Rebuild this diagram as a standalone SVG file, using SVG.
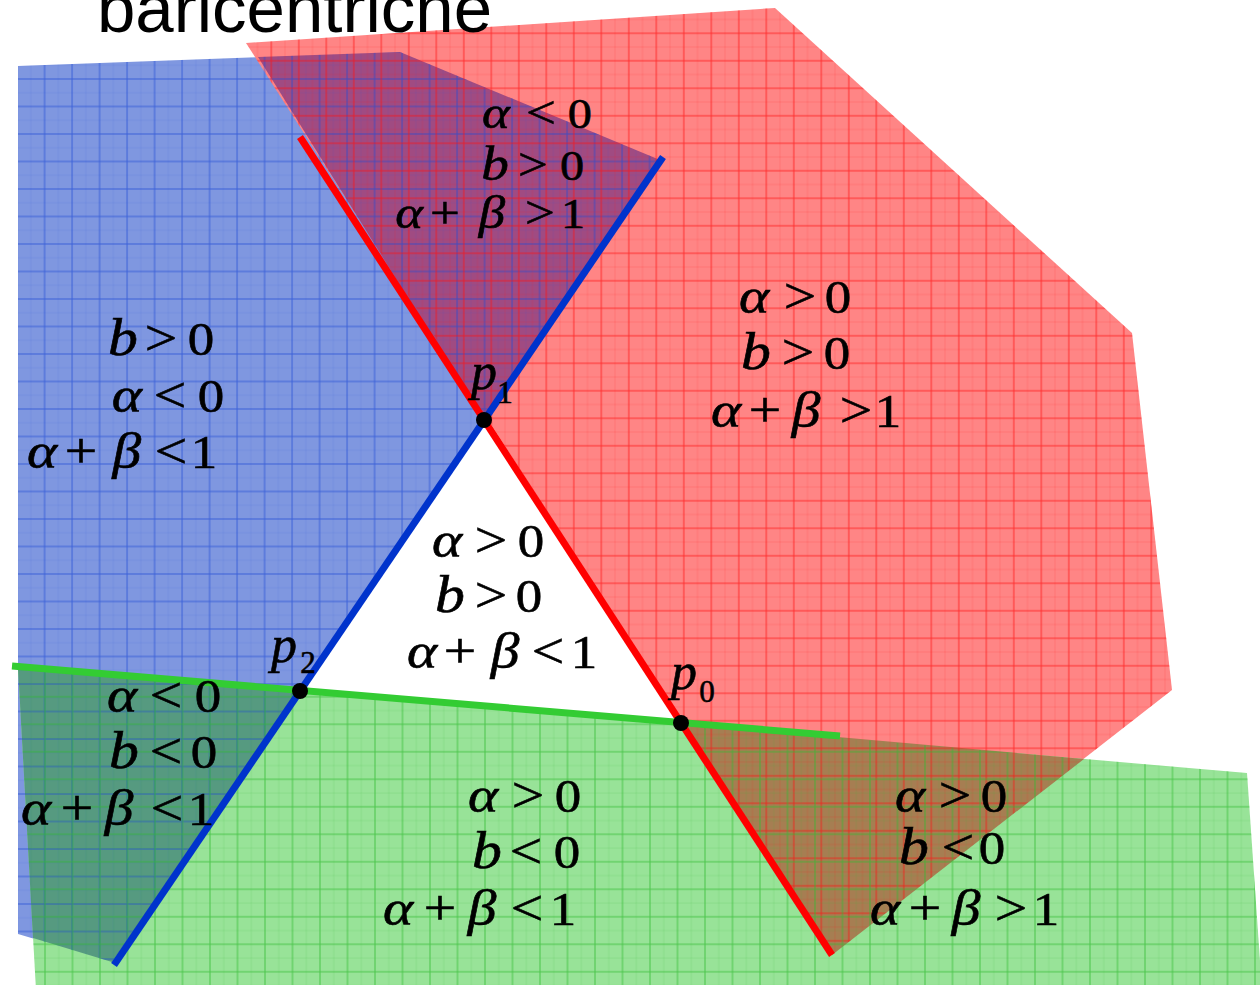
<svg xmlns="http://www.w3.org/2000/svg" width="1260" height="985" viewBox="0 0 1260 985">
<style>
.ln{fill:none;stroke-width:7;stroke-linecap:butt}
.lab{font-family:"Liberation Serif","Times New Roman",serif;fill:#000;stroke:#000;stroke-width:0.6;text-anchor:middle}
.i{font-style:italic;font-size:50px}
.b{font-style:italic;font-size:52px}
.o{font-size:50px}
.d{font-size:46px}
.sm .i{font-size:46px}
.sm .b{font-size:48px}
.sm .o{font-size:46px}
.sm .d{font-size:42px}
.p{font-style:italic;font-size:52px}
.s{font-size:31px;font-style:normal}
.title{font-family:"Liberation Sans",Arial,sans-serif;font-size:69px;fill:#000}
.dot{fill:#000}
</style>
<defs>
<pattern id="gb" patternUnits="userSpaceOnUse" x="16.1" y="23" width="27.5" height="27.5">
<path d="M1 0V27.5M0 1H27.5" stroke="#1f4ad6" stroke-width="1" stroke-opacity="0.7"/>
<path d="M14.75 0V27.5M0 14.75H27.5" stroke="#1f4ad6" stroke-width="0.8" stroke-opacity="0.15"/>
</pattern>
<pattern id="gr" patternUnits="userSpaceOnUse" x="22.8" y="4.8" width="27.5" height="27.5">
<path d="M1 0V27.5M0 1H27.5" stroke="#ff1010" stroke-width="1" stroke-opacity="0.75"/>
<path d="M14.75 0V27.5M0 14.75H27.5" stroke="#ff1010" stroke-width="0.8" stroke-opacity="0.18"/>
</pattern>
<pattern id="gg" patternUnits="userSpaceOnUse" x="16.5" y="8.3" width="27.5" height="27.5">
<path d="M1 0V27.5M0 1H27.5" stroke="#30bb30" stroke-width="1" stroke-opacity="0.75"/>
<path d="M14.75 0V27.5M0 14.75H27.5" stroke="#30bb30" stroke-width="0.8" stroke-opacity="0.18"/>
</pattern>
</defs>
<rect width="1260" height="985" fill="#fff"/>
<g id="regions">
<g id="region-blue"><polygon points="18,66 400,52 660,160 112,962 18,934" fill="#7f97e0"/></g>
<g id="region-red"><polygon points="246,43 775,8 1132,333 1172,690 832,955" fill="#ff8585"/></g>
<g id="region-green"><polygon points="18,667 1247,773 1262,990 36,990" fill="#98e398"/></g>
<g id="overlaps">
<polygon points="258,57 400,52 660,160 484,420" fill="#a04b82"/>
<polygon points="18,667 300,691 112,962 33,938" fill="#569a80"/>
<polygon points="681,723 1084,759 832,955" fill="#a67e52"/>
</g>
<g id="grids">
<polygon points="18,66 400,52 660,160 112,962 18,934" fill="url(#gb)"/>
<polygon points="246,43 775,8 1132,333 1172,690 832,955" fill="url(#gr)"/>
<polygon points="18,667 1247,773 1262,990 36,990" fill="url(#gg)"/>
</g>
</g>
<text id="title" class="title" x="97" y="32">baricentriche</text>
<g id="connectors">
<line class="ln" x1="300" y1="137" x2="832" y2="955" stroke="#ff0000"/>
<line class="ln" x1="663" y1="157" x2="114" y2="965" stroke="#0033cc"/>
<line class="ln" x1="12" y1="666" x2="840" y2="736" stroke="#33cc33"/>
</g>
<g id="p1"><circle class="dot" cx="484" cy="420" r="8"/><text class="lab"><tspan class="p" x="484" y="389">p</tspan><tspan class="s" x="505" y="403">1</tspan></text></g>
<g id="p2"><circle class="dot" cx="300" cy="691" r="8"/><text class="lab"><tspan class="p" x="284" y="662">p</tspan><tspan class="s" x="308" y="673">2</tspan></text></g>
<g id="p0"><circle class="dot" cx="681" cy="723" r="8"/><text class="lab"><tspan class="p" x="684" y="689">p</tspan><tspan class="s" x="707" y="702">0</tspan></text></g>
<g id="label-top"><text class="lab sm" transform="scale(1.15 1)"><tspan class="i" x="431.3" y="128">α</tspan><tspan class="o" x="470.4" y="128">&lt;</tspan><tspan class="d" x="504.3" y="128">0</tspan><tspan class="b" x="430.4" y="180">b</tspan><tspan class="o" x="463.5" y="180">&gt;</tspan><tspan class="d" x="497.4" y="180">0</tspan><tspan class="i" x="355.7" y="228">α</tspan><tspan class="o" x="387" y="228">+</tspan><tspan class="i" x="427.8" y="228">β</tspan><tspan class="o" x="469.6" y="228">&gt;</tspan><tspan class="d" x="498.3" y="228">1</tspan></text></g>
<g id="label-left"><text class="lab" transform="scale(1.15 1)"><tspan class="b" x="107" y="355">b</tspan><tspan class="o" x="140" y="355">&gt;</tspan><tspan class="d" x="174.8" y="355">0</tspan><tspan class="i" x="110.4" y="412">α</tspan><tspan class="o" x="147.8" y="412">&lt;</tspan><tspan class="d" x="183.5" y="412">0</tspan><tspan class="i" x="36.5" y="468">α</tspan><tspan class="o" x="70.4" y="468">+</tspan><tspan class="i" x="110.4" y="468">β</tspan><tspan class="o" x="148.7" y="468">&lt;</tspan><tspan class="d" x="177.4" y="468">1</tspan></text></g>
<g id="label-right"><text class="lab" transform="scale(1.15 1)"><tspan class="i" x="655.7" y="313">α</tspan><tspan class="o" x="695.7" y="313">&gt;</tspan><tspan class="d" x="728.7" y="313">0</tspan><tspan class="b" x="657.4" y="369">b</tspan><tspan class="o" x="693.9" y="369">&gt;</tspan><tspan class="d" x="727.8" y="369">0</tspan><tspan class="i" x="631.3" y="427">α</tspan><tspan class="o" x="665.2" y="427">+</tspan><tspan class="i" x="700.9" y="427">β</tspan><tspan class="o" x="744.3" y="427">&gt;</tspan><tspan class="d" x="772.2" y="427">1</tspan></text></g>
<g id="label-center"><text class="lab" transform="scale(1.15 1)"><tspan class="i" x="388.7" y="557">α</tspan><tspan class="o" x="427" y="557">&gt;</tspan><tspan class="d" x="461.7" y="557">0</tspan><tspan class="b" x="391.3" y="612">b</tspan><tspan class="o" x="427" y="612">&gt;</tspan><tspan class="d" x="460" y="612">0</tspan><tspan class="i" x="367" y="668">α</tspan><tspan class="o" x="400" y="668">+</tspan><tspan class="i" x="439.1" y="668">β</tspan><tspan class="o" x="476.5" y="668">&lt;</tspan><tspan class="d" x="507.8" y="668">1</tspan></text></g>
<g id="label-bottom-left"><text class="lab" transform="scale(1.15 1)"><tspan class="i" x="106.1" y="712">α</tspan><tspan class="o" x="144.3" y="712">&lt;</tspan><tspan class="d" x="180.9" y="712">0</tspan><tspan class="b" x="107.8" y="768">b</tspan><tspan class="o" x="144.3" y="768">&lt;</tspan><tspan class="d" x="177.4" y="768">0</tspan><tspan class="i" x="31.3" y="825">α</tspan><tspan class="o" x="67" y="825">+</tspan><tspan class="i" x="103.5" y="825">β</tspan><tspan class="o" x="145.2" y="825">&lt;</tspan><tspan class="d" x="174.8" y="825">1</tspan></text></g>
<g id="label-bottom-middle"><text class="lab" transform="scale(1.15 1)"><tspan class="i" x="420" y="812">α</tspan><tspan class="o" x="459.1" y="812">&gt;</tspan><tspan class="d" x="493.9" y="812">0</tspan><tspan class="b" x="423.5" y="868">b</tspan><tspan class="o" x="457.4" y="868">&lt;</tspan><tspan class="d" x="493" y="868">0</tspan><tspan class="i" x="346.1" y="925">α</tspan><tspan class="o" x="382.6" y="925">+</tspan><tspan class="i" x="419.1" y="925">β</tspan><tspan class="o" x="458.3" y="925">&lt;</tspan><tspan class="d" x="489.6" y="925">1</tspan></text></g>
<g id="label-bottom-right"><text class="lab" transform="scale(1.15 1)"><tspan class="i" x="791.3" y="812">α</tspan><tspan class="o" x="830.4" y="812">&gt;</tspan><tspan class="d" x="864.3" y="812">0</tspan><tspan class="b" x="794.8" y="864">b</tspan><tspan class="o" x="833" y="864">&lt;</tspan><tspan class="d" x="862.6" y="864">0</tspan><tspan class="i" x="769.6" y="925">α</tspan><tspan class="o" x="804.3" y="925">+</tspan><tspan class="i" x="840" y="925">β</tspan><tspan class="o" x="879.1" y="925">&gt;</tspan><tspan class="d" x="909.6" y="925">1</tspan></text></g>
</svg>
